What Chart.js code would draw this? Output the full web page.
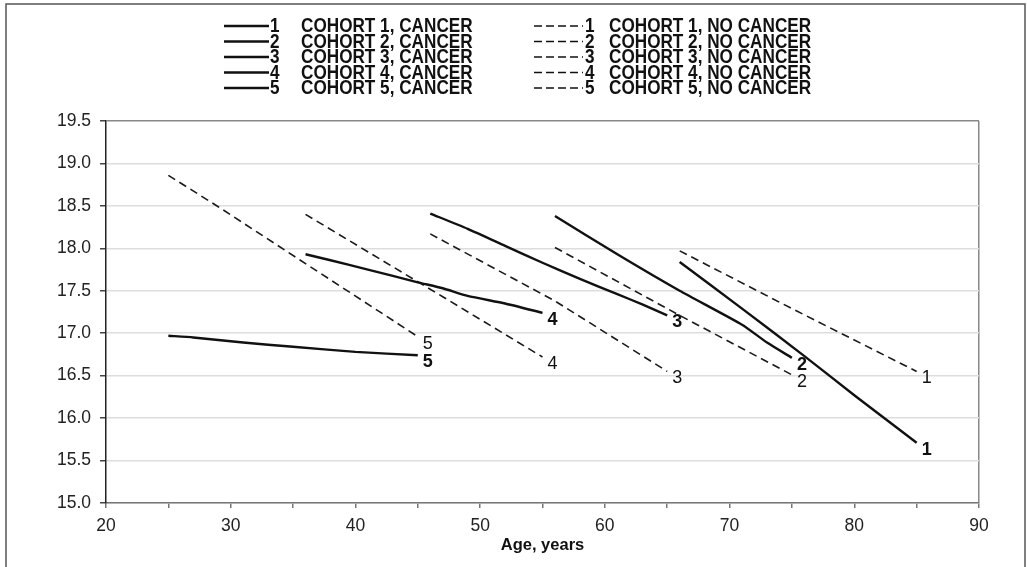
<!DOCTYPE html>
<html>
<head>
<meta charset="utf-8">
<script src="https://cdn.jsdelivr.net/npm/chart.js@4.4.0/dist/chart.umd.min.js"></script>
<style>
  html, body { margin: 0; padding: 0; background: #fff; }
</style>
</head>
<body>
<canvas id="grafico-cohortes" width="1027" height="567"></canvas>
<script>
// Cohortes y textos de leyenda
const cohortes = ['1', '2', '3', '4', '5'];
const nombresCancer = ['COHORT 1, CANCER', 'COHORT 2, CANCER', 'COHORT 3, CANCER', 'COHORT 4, CANCER', 'COHORT 5, CANCER'];
const nombresSinCancer = ['COHORT 1, NO CANCER', 'COHORT 2, NO CANCER', 'COHORT 3, NO CANCER', 'COHORT 4, NO CANCER', 'COHORT 5, NO CANCER'];

// Ticks de los ejes
const ticksY = [15.0, 15.5, 16.0, 16.5, 17.0, 17.5, 18.0, 18.5, 19.0, 19.5];
const ticksX = [20, 30, 40, 50, 60, 70, 80, 90];
const tituloX = 'Age, years';

// Cancer (linea continua): edad y valor
const edadC1 = [66, 71, 76, 80, 85];
const valC1 = [17.84, 17.29, 16.73, 16.27, 15.71];
const edadC2 = [56, 61, 66, 71, 73, 75];
const valC2 = [18.38, 17.93, 17.50, 17.10, 16.89, 16.71];
const edadC3 = [46, 49, 52, 55, 58, 61, 63, 65];
const valC3 = [18.41, 18.23, 18.03, 17.83, 17.64, 17.46, 17.34, 17.21];
const edadC4 = [36, 38, 41, 45, 47, 49, 52, 55];
const valC4 = [17.93, 17.86, 17.75, 17.60, 17.53, 17.44, 17.35, 17.24];
const edadC5 = [25, 27, 31, 35, 40, 45];
const valC5 = [16.97, 16.95, 16.89, 16.84, 16.78, 16.74];

// Sin cancer (linea punteada)
const edadN1 = [66, 75, 85];
const valN1 = [17.97, 17.29, 16.55];
const edadN2 = [56, 66, 75];
const valN2 = [18.01, 17.21, 16.51];
const edadN3 = [46, 56, 65];
const valN3 = [18.17, 17.38, 16.55];
const edadN4 = [36, 47, 55];
const valN4 = [18.40, 17.43, 16.72];
const edadN5 = [25, 29, 36, 45];
const valN5 = [18.86, 18.49, 17.82, 16.96];

const FUENTE = '"Liberation Sans", Arial, sans-serif';

function puntos(edades, valores) {
  return edades.map((e, i) => ({ x: e, y: valores[i] }));
}

const seriesCancer = [[edadC1, valC1], [edadC2, valC2], [edadC3, valC3], [edadC4, valC4], [edadC5, valC5]];
const seriesSinCancer = [[edadN1, valN1], [edadN2, valN2], [edadN3, valN3], [edadN4, valN4], [edadN5, valN5]];

const datasets = [];
seriesCancer.forEach((s, i) => {
  datasets.push({
    label: nombresCancer[i],
    marca: cohortes[i],
    cancer: true,
    data: puntos(s[0], s[1]),
    borderColor: '#111',
    borderWidth: 2.4,
    pointRadius: 0,
    tension: 0.2
  });
});
seriesSinCancer.forEach((s, i) => {
  datasets.push({
    label: nombresSinCancer[i],
    marca: cohortes[i],
    cancer: false,
    data: puntos(s[0], s[1]),
    borderColor: '#1a1a1a',
    borderWidth: 1.6,
    borderDash: [8, 5],
    pointRadius: 0,
    tension: 0
  });
});

// Marco exterior de la figura
const marcoPlugin = {
  id: 'marco',
  beforeDraw(chart) {
    const c = chart.ctx;
    c.save();
    c.fillStyle = '#fff';
    c.fillRect(0, 0, chart.width, chart.height);
    c.strokeStyle = '#555';
    c.lineWidth = 1.5;
    c.strokeRect(6, 4, 1019, 600);
    c.restore();
  }
};

// texto algo comprimido, como en la figura original
function textoAngosto(c, txt, x, y) {
  c.save();
  c.translate(x, y);
  c.scale(0.88, 1);
  c.fillText(txt, 0, 0);
  c.restore();
}

// Leyenda en dos columnas (arriba)
const leyendaPlugin = {
  id: 'leyenda',
  afterDraw(chart) {
    const c = chart.ctx;
    c.save();
    c.fillStyle = '#111';
    c.strokeStyle = '#111';
    c.font = 'bold 19.5px ' + FUENTE;
    c.textBaseline = 'middle';
    c.textAlign = 'left';
    cohortes.forEach((n, i) => {
      const y = 26 + i * 15.5;
      c.setLineDash([]);
      c.lineWidth = 2.6;
      c.beginPath(); c.moveTo(224, y); c.lineTo(269, y); c.stroke();
      textoAngosto(c, n, 270, y + 1);
      textoAngosto(c, nombresCancer[i], 301, y + 1);

      c.lineWidth = 1.6;
      c.setLineDash([8, 4]);
      c.beginPath(); c.moveTo(534, y); c.lineTo(583, y); c.stroke();
      textoAngosto(c, n, 585, y + 1);
      textoAngosto(c, nombresSinCancer[i], 609, y + 1);
    });
    c.restore();
  }
};

// Numero de cohorte al final de cada linea
const etiquetasPlugin = {
  id: 'etiquetas',
  afterDatasetsDraw(chart) {
    const c = chart.ctx;
    c.save();
    c.fillStyle = '#111';
    c.textAlign = 'center';
    c.textBaseline = 'middle';
    chart.data.datasets.forEach((ds, i) => {
      const meta = chart.getDatasetMeta(i);
      const ultimo = meta.data[meta.data.length - 1];
      c.font = (ds.cancer ? 'bold ' : '') + '18px ' + FUENTE;
      c.fillText(ds.marca, ultimo.x + 10, ultimo.y + 7);
    });
    c.restore();
  }
};

const ctx = document.getElementById('grafico-cohortes').getContext('2d');

const chart = new Chart(ctx, {
  type: 'line',
  data: { datasets: datasets },
  plugins: [marcoPlugin, leyendaPlugin, etiquetasPlugin],
  options: {
    responsive: false,
    animation: false,
    layout: { padding: { top: 121, right: 48, bottom: 12, left: 0 } },
    plugins: {
      legend: { display: false },
      tooltip: { enabled: false }
    },
    scales: {
      x: {
        type: 'linear',
        min: ticksX[0],
        max: ticksX[ticksX.length - 1],
        afterFit: s => { s.height = 52; },
        ticks: {
          stepSize: 5,
          autoSkip: false,
          maxRotation: 0,
          padding: 8,
          color: '#222',
          font: { family: FUENTE, size: 17.5 },
          callback: v => ticksX.includes(v) ? String(v) : ''
        },
        grid: {
          color: c => (c.tick && c.tick.value === 90) ? '#888' : 'rgba(0,0,0,0)',
          lineWidth: 1.5,
          tickColor: '#777',
          tickLength: 5
        },
        border: { color: '#777', width: 1.5 },
        title: {
          display: true,
          text: tituloX,
          color: '#111',
          padding: { top: 0, bottom: 0 },
          font: { family: FUENTE, size: 16.5, weight: 'bold' }
        }
      },
      y: {
        min: ticksY[0],
        max: ticksY[ticksY.length - 1],
        afterFit: s => { s.width = 106; },
        ticks: {
          stepSize: 0.5,
          padding: 9,
          color: '#222',
          font: { family: FUENTE, size: 17.5 },
          callback: v => ticksY.includes(v) ? v.toFixed(1) : ''
        },
        grid: {
          color: c => (c.tick && c.tick.value === 19.5) ? '#888' : '#ddd',
          lineWidth: 1.5,
          tickColor: '#444',
          tickLength: 6
        },
        border: { color: '#222', width: 1.5 }
      }
    }
  }
});
</script>
</body>
</html>
